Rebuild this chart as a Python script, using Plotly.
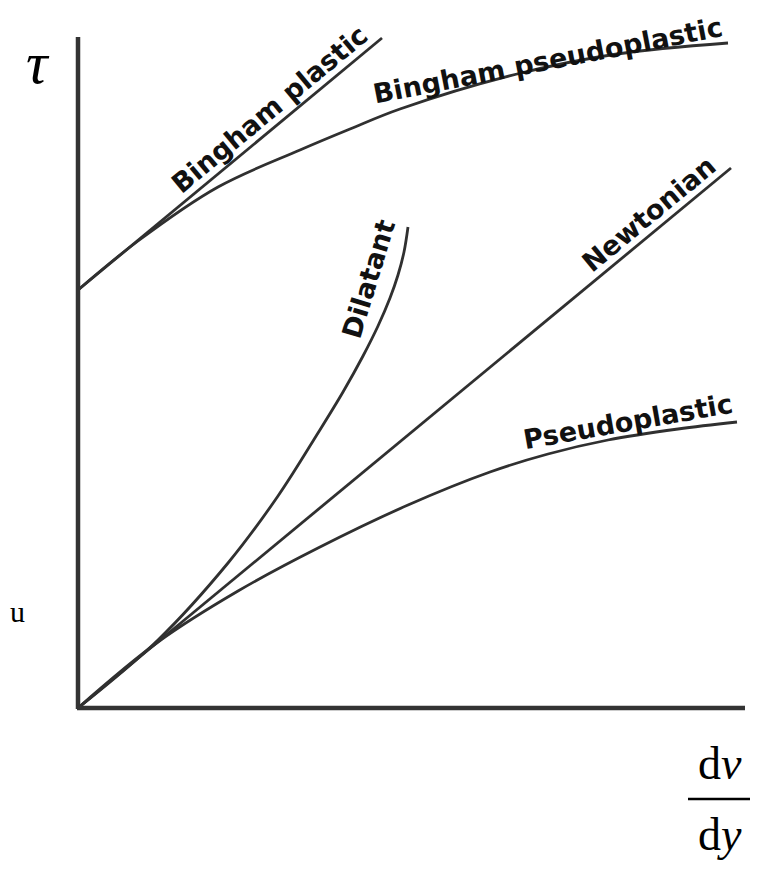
import plotly.graph_objects as go

# Data in chart units (shear rate x, shear stress y)
newtonian_x = [0, 653]
newtonian_y = [0, 540]

bingham_plastic_x = [0, 304]
bingham_plastic_y = [418, 670]

bingham_pseudo_x = [0, 60, 140, 222, 272, 322, 439, 539, 650]
bingham_pseudo_y = [418, 467, 521, 558, 579, 599, 634, 654, 665]

dilatant_x = [0, 80, 150, 200, 240, 265, 285, 300, 312, 320, 326, 330]
dilatant_y = [0, 68, 145, 212, 275, 316, 352, 382, 410, 433, 456, 481]

pseudo_x = [0, 80, 160, 240, 330, 412, 470, 530, 600, 659]
pseudo_y = [0, 66, 117, 160, 203, 236, 254, 268, 279, 286]

labels = ["Bingham plastic", "Bingham pseudoplastic", "Dilatant", "Newtonian", "Pseudoplastic"]
label_x = [191, 469, 290, 570, 550]
label_y = [599, 648, 429, 494, 287]
label_angle = [-39.7, -11, -73, -39.6, -10]

x_axis_end = 667
y_axis_end = 671

line_color = "#303030"
fig = go.Figure()
for xs, ys in [(newtonian_x, newtonian_y), (bingham_plastic_x, bingham_plastic_y),
               (bingham_pseudo_x, bingham_pseudo_y), (dilatant_x, dilatant_y),
               (pseudo_x, pseudo_y)]:
    fig.add_trace(go.Scatter(x=xs, y=ys, mode="lines",
                             line=dict(color=line_color, width=2.8, shape="spline", smoothing=1.0),
                             hoverinfo="skip", showlegend=False))

# axes
fig.add_shape(type="line", x0=0, y0=-1, x1=0, y1=y_axis_end, xref="x", yref="y",
              line=dict(color="#333333", width=4.5))
fig.add_shape(type="line", x0=-1, y0=0, x1=x_axis_end, y1=0, xref="x", yref="y",
              line=dict(color="#333333", width=4.5))

for t, x, y, a in zip(labels, label_x, label_y, label_angle):
    fig.add_annotation(x=x, y=y, text=t, textangle=a, showarrow=False,
                       xanchor="center", yanchor="middle",
                       font=dict(family="DejaVu Sans", size=27, color="#111111", weight="bold"))

serif = "Liberation Serif"
fig.add_annotation(x=-40, y=645, text="<i>τ</i>", showarrow=False, xanchor="center", yanchor="middle",
                   font=dict(family=serif, size=60, color="#000000"))
fig.add_annotation(x=-70, y=97, text="u", showarrow=False, xanchor="left", yanchor="middle",
                   font=dict(family=serif, size=30, color="#000000"))
fig.add_annotation(x=642, y=-55, text="d<i>v</i>", showarrow=False, xanchor="center", yanchor="middle",
                   font=dict(family=serif, size=46, color="#000000"))
fig.add_annotation(x=642, y=-126, text="d<i>y</i>", showarrow=False, xanchor="center", yanchor="middle",
                   font=dict(family=serif, size=46, color="#000000"))
fig.add_shape(type="line", x0=610, y0=-91, x1=674, y1=-91, xref="x", yref="y",
              line=dict(color="#000000", width=2.5))

fig.update_layout(
    width=750, height=853,
    margin=dict(l=0, r=0, t=0, b=0),
    paper_bgcolor="white", plot_bgcolor="white",
    xaxis=dict(range=[-70, 680], visible=False, fixedrange=True),
    yaxis=dict(range=[-153, 700], visible=False, fixedrange=True),
    showlegend=False,
)
fig.write_html("out.html")
